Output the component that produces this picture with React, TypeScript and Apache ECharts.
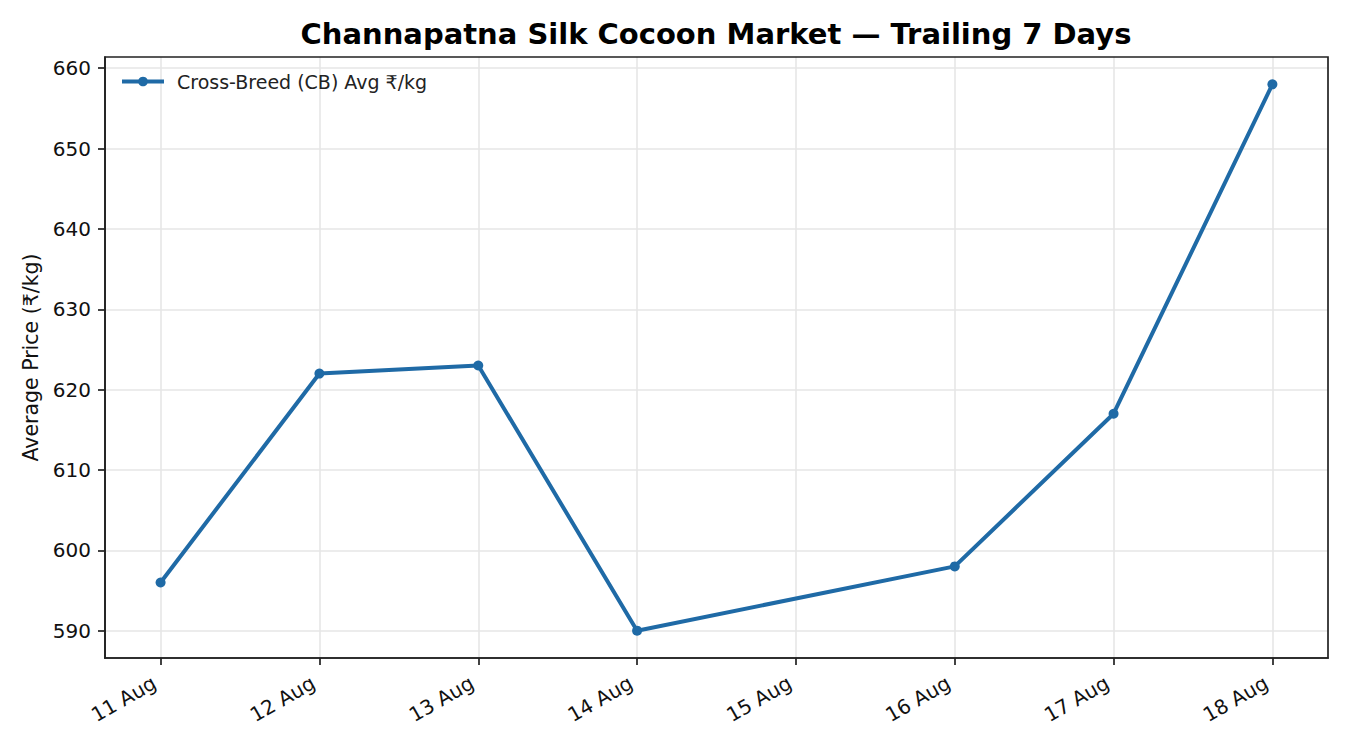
import React, { useEffect, useRef } from "react";
import * as echarts from "echarts";

const dayNumbers = [11, 12, 13, 14, 16, 17, 18];
const prices = [596, 622, 623, 590, 598, 617, 658];
const tickDays = [11, 12, 13, 14, 15, 16, 17, 18];
const yTicks = [590, 600, 610, 620, 630, 640, 650, 660];
const seriesName = "Cross-Breed (CB) Avg ₹/kg";
const titleText = "Channapatna Silk Cocoon Market — Trailing 7 Days";
const yAxisTitle = "Average Price (₹/kg)";
const monthLabel = "Aug";

const FONT = "DejaVu Sans";
const LINE_COLOR = "#1f6aa6";
const TICK_FS = 20;

export default function App() {
  const ref = useRef<HTMLDivElement>(null);
  useEffect(() => {
    document.body.style.margin = "0";
    if (!ref.current) return;
    const chart = echarts.init(ref.current, undefined, { renderer: "svg" });
    const data = dayNumbers.map((d, i) => [d, prices[i]]);
    chart.setOption({
      animation: false,
      backgroundColor: "#ffffff",
      textStyle: { fontFamily: FONT },
      title: {
        text: titleText,
        left: 716,
        textAlign: "center",
        top: 19,
        padding: 0,
        textStyle: { fontFamily: FONT, fontSize: 29, fontWeight: "bold", color: "#000" },
      },
      legend: {
        left: 120,
        top: 72,
        padding: 0,
        itemWidth: 42,
        itemHeight: 12,
        lineStyle: { width: 4 },
        textStyle: { fontFamily: FONT, fontSize: 19, color: "#222", padding: [0, 0, 0, 8] },
        data: [seriesName],
      },
      grid: { left: 105, right: 22, top: 57, bottom: 92, containLabel: false },
      xAxis: {
        type: "value",
        min: 10.65,
        max: 18.35,
        axisLine: { show: true, onZero: false, lineStyle: { color: "#222", width: 1.7 } },
        axisTick: { show: true, length: 7, lineStyle: { color: "#222", width: 1.7 }, customValues: tickDays },
        axisLabel: {
          customValues: tickDays,
          rotate: 30,
          margin: 8,
          align: "right",
          verticalAlign: "top",
          padding: [0, 13, 0, 0],
          fontFamily: FONT,
          fontSize: TICK_FS,
          color: "#111",
          formatter: (v: number) => `${Math.round(v)} ${monthLabel}`,
        },
        splitLine: { show: true, lineStyle: { color: "#e6e6e6", width: 1.6 } },
      },
      yAxis: {
        type: "value",
        min: 586.6,
        max: 661.4,
        name: yAxisTitle,
        nameLocation: "middle",
        nameRotate: 90,
        nameGap: 61,
        nameTextStyle: { fontFamily: FONT, fontSize: 20.5, color: "#111" },
        axisLine: { show: true, lineStyle: { color: "#222", width: 1.7 } },
        axisTick: { show: true, length: 7, lineStyle: { color: "#222", width: 1.7 }, customValues: yTicks },
        axisLabel: {
          customValues: yTicks,
          margin: 14,
          fontFamily: FONT,
          fontSize: TICK_FS,
          color: "#111",
          formatter: (v: number) => `${Math.round(v)}`,
        },
        splitLine: { show: true, lineStyle: { color: "#e6e6e6", width: 1.6 } },
      },
      graphic: [
        {
          type: "rect",
          shape: { x: 105, y: 57, width: 1223, height: 601 },
          style: { fill: "none", stroke: "#222", lineWidth: 1.7 },
          silent: true,
          z: 10,
        },
      ],
      series: [
        {
          name: seriesName,
          type: "line",
          data,
          symbol: "circle",
          symbolSize: 10,
          color: LINE_COLOR,
          lineStyle: { width: 4, color: LINE_COLOR },
          itemStyle: { color: LINE_COLOR },
        },
      ],
    });
    return () => chart.dispose();
  }, []);
  return <div ref={ref} style={{ width: 1350, height: 750 }} />;
}
